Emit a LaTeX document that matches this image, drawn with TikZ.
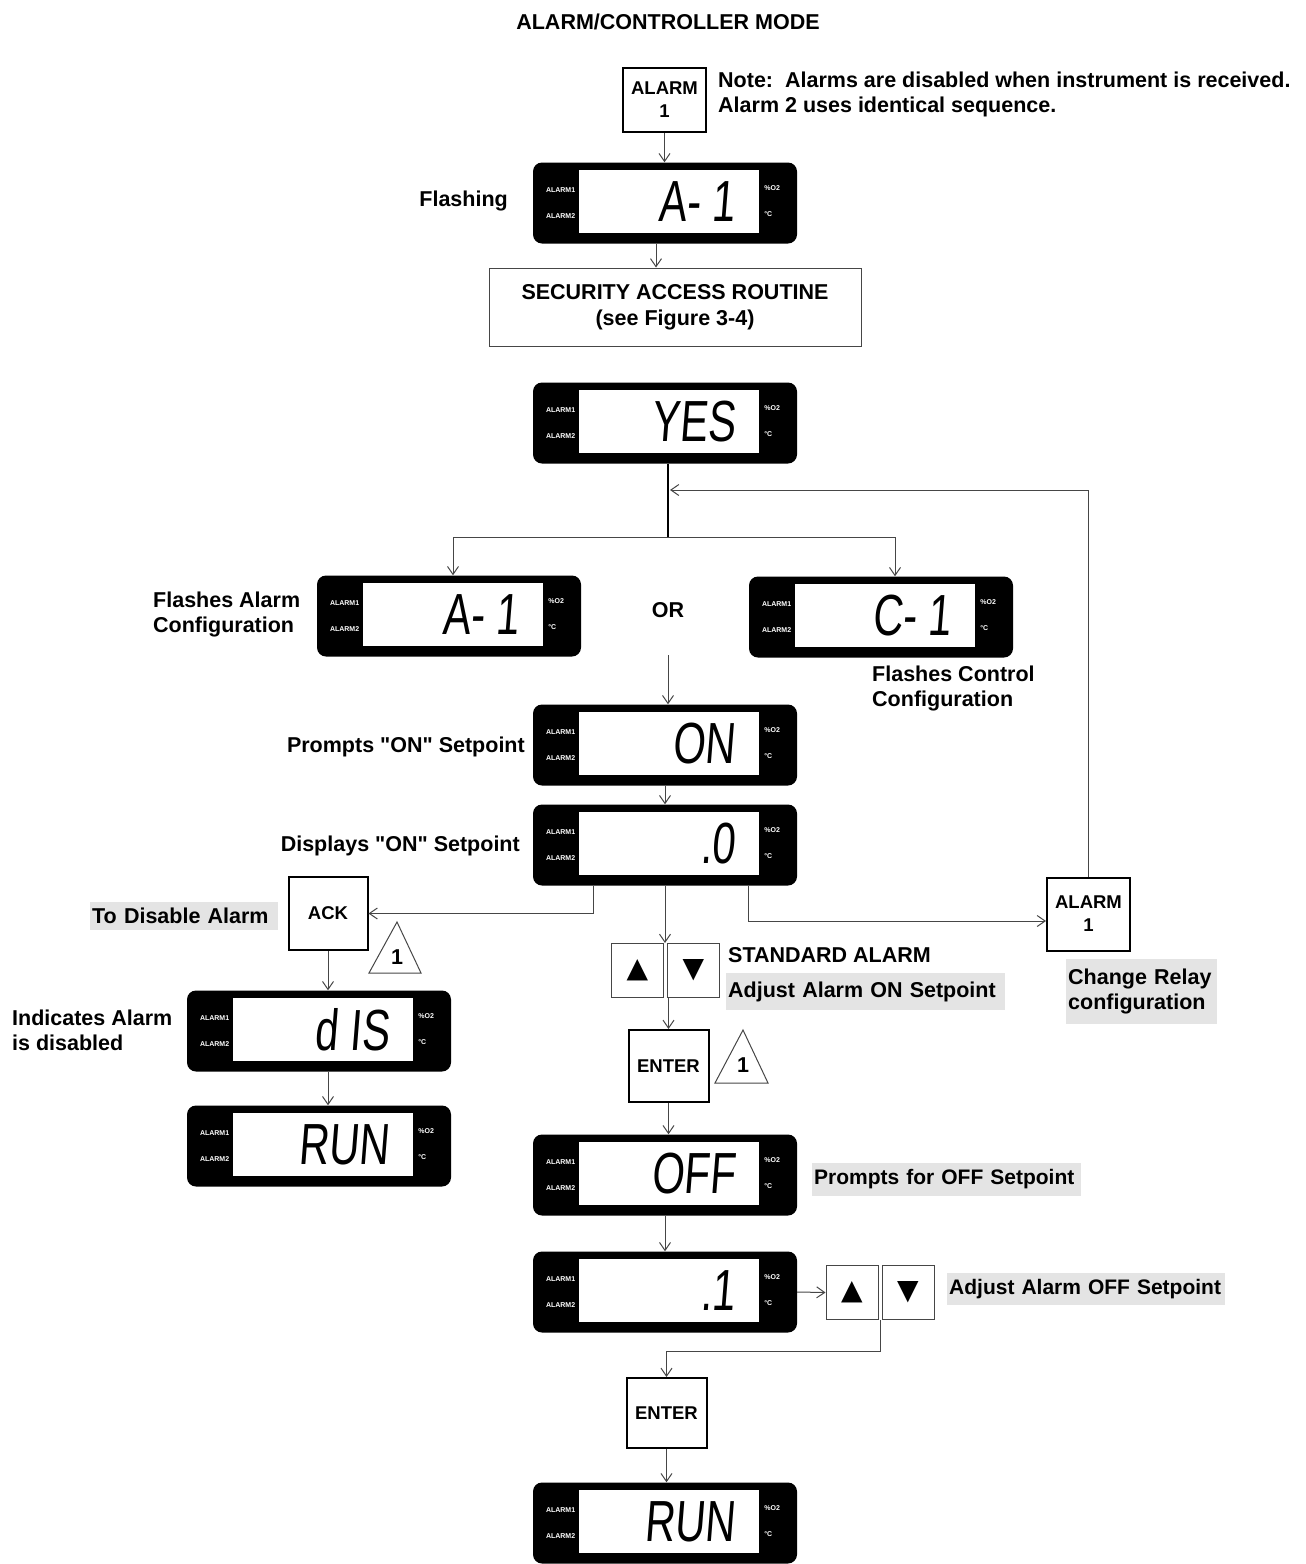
\documentclass[tikz,border=0pt]{standalone}
\usepackage{fontspec}
\setmainfont{Liberation Sans}
\newfontfamily\segfont[FakeStretch=0.72,FakeSlant=0.08]{Liberation Sans}
\newfontfamily\symfont{DejaVu Sans}
\usetikzlibrary{positioning, arrows.meta, calc}
\definecolor{TagGrey}{RGB}{228, 228, 228}
\definecolor{LineGrey}{RGB}{70, 70, 70}

% one LCD read-out: name, centre, reading
\newcommand{\lcdpanel}[3]{%
  \node[lcdbox] (#1) at (#2) {};
  \node[lcdwin] (#1win) at ($(#1)+(4,-1.5)$) {};
  \node[lcdtag, anchor=west] (#1al1) at ($(#1.west)+(13,-13)$) {ALARM1};
  \node[lcdtag, anchor=west] (#1al2) at ($(#1.west)+(13,13)$) {ALARM2};
  \node[lcdtag, anchor=west] (#1unit) at ($(#1win.east)+(5,-13)$) {\%O2};
  \node[lcdtag, anchor=west] (#1deg) at ($(#1win.east)+(5,13)$) {°C};
  \node[lcdread, anchor=east] (#1read) at ($(#1win.east)+(-24,0)$) {#3};
}

\begin{document}
\begin{tikzpicture}[x=1pt, y=-1pt,
    lcdbox/.style={fill=black, rounded corners=9pt, minimum width=264pt, minimum height=81pt, inner sep=0pt},
    lcdwin/.style={fill=white, minimum width=180pt, minimum height=63pt, inner sep=0pt},
    lcdtag/.style={text=white, font=\fontsize{7}{8}\selectfont\bfseries, inner sep=0pt},
    lcdread/.style={font=\segfont\fontsize{58}{58}\selectfont, inner sep=0pt},
    lbl/.style={font=\fontsize{21.5}{25}\selectfont\bfseries, inner sep=0pt, align=left},
    greytag/.style={lbl, fill=TagGrey, inner xsep=2pt, inner ysep=0pt, anchor=west},
    keybox/.style={draw, line width=2pt, minimum width=80pt, minimum height=72pt, inner sep=0pt,
      font=\fontsize{18.5}{23}\selectfont\bfseries, align=center},
    btn/.style={draw=LineGrey, line width=1pt, minimum width=52pt, minimum height=54pt, inner sep=0pt,
      font=\symfont\fontsize{28}{28}\selectfont},
    conn/.style={draw=LineGrey, line width=1pt, -{Straight Barb[length=8pt, width=11pt]}},
    tri/.style={draw=LineGrey, line width=1pt}
  ]
  \useasboundingbox (0,0) rectangle (1306,1564);

  % Heading and note
  \node[lbl] (title) at (668,22) {ALARM/CONTROLLER MODE};
  \node[keybox, minimum width=83pt, minimum height=64pt] (alarmA) at (664.5,100) {ALARM\\1};
  \node[lbl, anchor=west] (note) at (718,94) {Note:\ \ Alarms are disabled when instrument is received.\\Alarm 2 uses identical sequence.};

  % Entry
  \lcdpanel{dA1}{665,203}{A- 1}
  \node[lbl, anchor=east] (flash) at (508,201) {Flashing};
  \node[draw=LineGrey, line width=1pt, minimum width=372pt, minimum height=78pt, inner sep=0pt,
    font=\fontsize{21.5}{26}\selectfont\bfseries, align=center] (sec) at (675,307)
    {SECURITY ACCESS ROUTINE\\(see Figure 3-4)};
  \lcdpanel{dYes}{665,423}{YES}

  % Alarm or controller
  \lcdpanel{dAc}{449,616}{A- 1}
  \lcdpanel{dCc}{881,617}{C- 1}
  \node[lbl] (orl) at (668,610) {OR};
  \node[lbl, anchor=west] (flA) at (153,614) {Flashes Alarm\\Configuration};
  \node[lbl, anchor=west] (flC) at (872,688) {Flashes Control\\Configuration};

  % ON setpoint
  \lcdpanel{dOn}{665,745}{ON}
  \node[lbl, anchor=east] (pOn) at (525,747) {Prompts \textquotedbl ON\textquotedbl\ Setpoint};
  \lcdpanel{dOn0}{665,845}{.0}
  \node[lbl, anchor=east] (sOn) at (520,846) {Displays \textquotedbl ON\textquotedbl\ Setpoint};

  % Disable branch
  \node[keybox, minimum width=79pt, minimum height=73pt] (ack) at (328,913.5) {ACK};
  \node[greytag, text width=184pt, minimum height=28pt] (tdis) at (90,916) {\mbox{To Disable Alarm}};
  \draw[tri] (397,922) -- (421,973) -- (369,973) -- cycle;
  \node[lbl] (n1a) at (397,957) {1};
  \lcdpanel{dDis}{319,1031}{d IS}
  \node[lbl, anchor=west] (ind) at (12,1030) {Indicates Alarm\\is disabled};
  \lcdpanel{dRun1}{319,1146}{RUN}

  % Relay branch
  \node[keybox, minimum width=83pt, minimum height=73pt] (alarmB) at (1088.5,914) {ALARM\\1};
  \node[greytag, text width=147pt, minimum height=65pt] (relay) at (1066,991.5) {\mbox{Change Relay}\\\mbox{configuration}};

  % Standard alarm
  \node[btn] (up1) at (637.5,970.5) {▲};
  \node[btn] (dn1) at (693.5,970.5) {▼};
  \node[lbl, anchor=west] (std) at (728,955) {STANDARD ALARM};
  \node[greytag, text width=275pt, minimum height=37pt] (adjOn) at (726,991.5) {\mbox{Adjust Alarm ON Setpoint}};
  \node[keybox] (enter1) at (668.5,1066) {ENTER};
  \draw[tri] (743,1030) -- (768,1083) -- (715,1083) -- cycle;
  \node[lbl] (n1b) at (743,1065) {1};

  % OFF setpoint
  \lcdpanel{dOff}{665,1175}{OFF}
  \node[greytag, text width=265pt, minimum height=33pt, font=\fontsize{21}{25}\selectfont\bfseries] (pOff) at (812,1179.5) {\mbox{Prompts for OFF Setpoint}};
  \lcdpanel{dP1}{665,1292}{.1}
  \node[btn] (up2) at (852,1292.5) {▲};
  \node[btn] (dn2) at (908,1292.5) {▼};
  \node[greytag, text width=274pt, minimum height=32pt, font=\fontsize{21}{25}\selectfont\bfseries] (adjOff) at (947,1289) {\mbox{Adjust Alarm OFF Setpoint}};
  \node[keybox, minimum height=70pt] (enter2) at (666.5,1413) {ENTER};
  \lcdpanel{dRun2}{665,1523}{RUN}

  % Connectors
  \draw[conn] (alarmA) -- (alarmA |- dA1.north);
  \coordinate (secin) at ($(dA1.south)+(-9,0)$);
  \draw[conn] (secin) -- (secin |- sec.north);
  \coordinate (fork) at (668,537);
  \draw[line width=2.5pt] (fork |- dYes.south) -- (fork);
  \draw[conn] (fork) -| ($(dAc.north)+(4,0)$);
  \draw[conn] (fork) -| ($(dCc.north)+(14,0)$);
  \coordinate (loopin) at (670,490);
  \draw[conn] (alarmB.north) |- (loopin);
  \coordinate (orout) at (668,655);
  \draw[conn] (orout) -- (orout |- dOn.north);
  \draw[conn] (dOn) -- (dOn0);
  \draw[conn] ($(dOn0.south)+(-72,0)$) |- (ack.east);
  \draw[conn] (dOn0.south) -- (dOn0.south |- up1.north);
  \draw[conn] ($(dOn0.south)+(83,0)$) |- ($(alarmB.west)+(0,7)$);
  \draw[conn] (ack) -- (ack |- dDis.north);
  \draw[conn] (ack |- dDis.south) -- (ack |- dRun1.north);
  \draw[conn] (enter1 |- up1.south) -- (enter1);
  \draw[conn] (enter1) -- (enter1 |- dOff.north);
  \draw[conn] (dOff) -- (dP1);
  \draw[conn] (dP1.east) -- (up2.west);
  \coordinate (gap2) at ($(up2.south east)!0.5!(dn2.south west)$);
  \draw[conn] (gap2) |- ($(enter2.north)+(0,-26)$) -- (enter2.north);
  \draw[conn] (enter2) -- (enter2 |- dRun2.north);
\end{tikzpicture}
\end{document}
